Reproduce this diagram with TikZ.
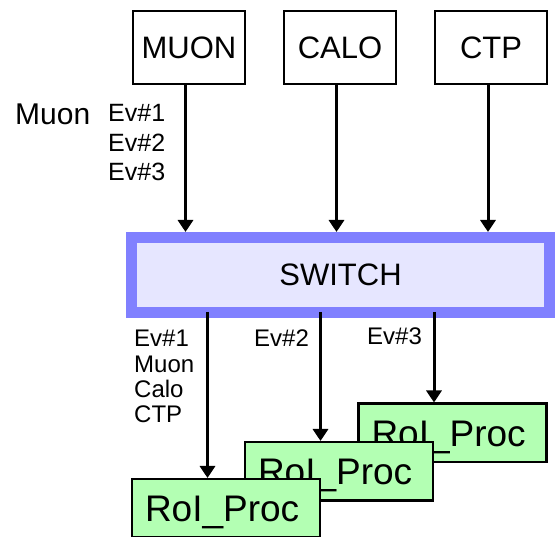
\documentclass[tikz,border=0pt]{standalone}
\usepackage{fontspec}
\setmainfont{Liberation Sans}
\usetikzlibrary{arrows.meta}
\definecolor{swborder}{RGB}{128,128,255}
\definecolor{swfill}{RGB}{230,230,255}
\definecolor{roigreen}{RGB}{179,255,179}
\tikzset{
  srcbox/.style={draw, line width=2.5pt, minimum width=112pt, minimum height=73pt, inner sep=0pt,
    font=\fontsize{31}{36}\selectfont},
  switchbox/.style={draw=swborder, fill=swfill, line width=11pt, minimum width=418pt, minimum height=75pt,
    inner sep=0pt, font=\fontsize{31}{36}\selectfont},
  roibox/.style={draw, line width=2.5pt, fill=roigreen, minimum width=188pt, minimum height=58.5pt,
    text width=162pt, align=left, inner xsep=12.75pt, inner ysep=0pt,
    text height=42.75pt, text depth=15.75pt, font=\fontsize{37}{42}\selectfont},
  lbl/.style={anchor=base west, inner sep=0pt, font=\fontsize{25}{29}\selectfont},
  lblsmall/.style={anchor=base west, inner sep=0pt, font=\fontsize{24}{28}\selectfont},
  arr/.style={line width=3pt, -{Triangle[length=12pt,width=15pt]}}
}
\begin{document}
\begin{tikzpicture}[x=1pt,y=-1pt]
\useasboundingbox (0,0) rectangle (555,537);
% switch
\node[switchbox] (sw) at (340.5,275) {SWITCH};
% source boxes
\node[srcbox] (muon) at (189,47.5) {MUON};
\node[srcbox] (calo) at (340,47.5) {CALO};
\node[srcbox] (ctp) at (491,47.5) {CTP};
% labels
\node[anchor=base west, inner sep=0pt, font=\fontsize{30}{34}\selectfont] (muonlbl) at (15,125) {Muon};
\node[lbl] (tev1) at (108,122) {Ev\#1};
\node[lbl] (tev2) at (108,152) {Ev\#2};
\node[lbl] (tev3) at (108,181) {Ev\#3};
\node[lblsmall] (bev1) at (134,347) {Ev\#1};
\node[lblsmall] (bmuon) at (134,373) {Muon};
\node[lblsmall] (bcalo) at (134,398) {Calo};
\node[lblsmall] (bctp) at (134,423) {CTP};
\node[lblsmall] (bev2) at (254,347) {Ev\#2};
\node[lblsmall] (bev3) at (367,345) {Ev\#3};
% RoI processors, back to front
\node[roibox] (r3) at (452.5,433) {RoI\_Proc};
\node[roibox] (r2) at (339,471.5) {RoI\_Proc};
\node[roibox] (r1) at (226,508.5) {RoI\_Proc};
% input arrows
\draw[arr] ([xshift=-3.5pt]muon.south) -- ([xshift=-3.5pt]muon.south |- sw.north);
\draw[arr] ([xshift=-3.5pt]calo.south) -- ([xshift=-3.5pt]calo.south |- sw.north);
\draw[arr] ([xshift=-3pt]ctp.south) -- ([xshift=-3pt]ctp.south |- sw.north);
% output arrows
\coordinate (o1) at ([xshift=-18.5pt]r1.north |- 0,312);
\coordinate (o2) at ([xshift=-18.5pt]r2.north |- 0,312);
\coordinate (o3) at ([xshift=-18.5pt]r3.north |- 0,312);
\draw[arr] (o1) -- ([xshift=-18.5pt]r1.north);
\draw[arr] (o2) -- ([xshift=-18.5pt]r2.north);
\draw[arr] (o3) -- ([xshift=-18.5pt]r3.north);
\end{tikzpicture}
\end{document}
